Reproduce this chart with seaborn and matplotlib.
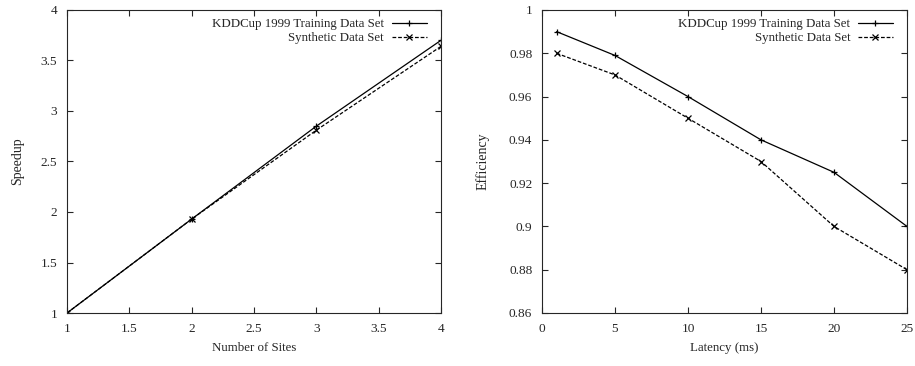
import pandas as pd
import seaborn as sns
import matplotlib.pyplot as plt

sites = [1, 2, 3, 4]
speedup_kdd = [1.0, 1.93, 2.85, 3.70]
speedup_syn = [1.0, 1.93, 2.81, 3.64]

latency = [1, 5, 10, 15, 20, 25]
eff_kdd = [0.99, 0.979, 0.96, 0.94, 0.925, 0.90]
eff_syn = [0.98, 0.97, 0.95, 0.93, 0.90, 0.88]

series_names = ["KDDCup 1999 Training Data Set", "Synthetic Data Set"]

sns.set_style("ticks")
plt.rcParams['font.family'] = ['Liberation Serif', 'DejaVu Serif']
plt.rcParams['font.size'] = 9.3

df_speed = pd.DataFrame({
    "x": sites + sites,
    "y": speedup_kdd + speedup_syn,
    "set": [series_names[0]] * len(sites) + [series_names[1]] * len(sites),
})
df_eff = pd.DataFrame({
    "x": latency + latency,
    "y": eff_kdd + eff_syn,
    "set": [series_names[0]] * len(latency) + [series_names[1]] * len(latency),
})

fig = plt.figure(figsize=(9.15, 3.66), dpi=100)
ax1 = fig.add_axes([67 / 915, 1 - 313 / 366, 374 / 915, 303 / 366])
ax2 = fig.add_axes([542 / 915, 1 - 313 / 366, 365 / 915, 303 / 366])

dashes = {series_names[0]: "", series_names[1]: (3, 1.5)}
markers = {series_names[0]: "+", series_names[1]: "x"}
palette = {series_names[0]: "black", series_names[1]: "black"}

for ax, df in [(ax1, df_speed), (ax2, df_eff)]:
    sns.lineplot(data=df, x="x", y="y", hue="set", style="set", ax=ax,
                 palette=palette, dashes=dashes, markers=markers,
                 markersize=5, linewidth=0.9, markeredgewidth=0.9,
                 markeredgecolor="black")
    ax.tick_params(direction="in", top=True, right=True, length=4, width=0.8,
                   labelsize=9.6, pad=7)
    for s in ax.spines.values():
        s.set_linewidth(0.8)
    ax.legend(loc="upper right", bbox_to_anchor=(0.984, 1.0), frameon=False,
              markerfirst=False, fontsize=9.3, handlelength=2.7,
              labelspacing=0.12, borderaxespad=0.25, handletextpad=0.6,
              borderpad=0.4)

ax1.set_xlim(1, 4)
ax1.set_ylim(1, 4)
ax1.set_xticks([1, 1.5, 2, 2.5, 3, 3.5, 4])
ax1.set_xticklabels(["1", "1.5", "2", "2.5", "3", "3.5", "4"])
ax1.set_yticks([1, 1.5, 2, 2.5, 3, 3.5, 4])
ax1.set_yticklabels(["1", "1.5", "2", "2.5", "3", "3.5", "4"])
ax1.set_xlabel("Number of Sites", labelpad=5)
ax1.set_ylabel("Speedup", labelpad=12, fontsize=10)

ax2.set_xlim(0, 25)
ax2.set_ylim(0.86, 1.0)
ax2.set_xticks([0, 5, 10, 15, 20, 25])
ax2.set_yticks([0.86, 0.88, 0.9, 0.92, 0.94, 0.96, 0.98, 1.0])
ax2.set_yticklabels(["0.86", "0.88", "0.9", "0.92", "0.94", "0.96", "0.98", "1"])
ax2.set_xlabel("Latency (ms)", labelpad=5)
ax2.set_ylabel("Efficiency", labelpad=14, fontsize=10)

fig.savefig("out.png", dpi=100)
plt.close(fig)
